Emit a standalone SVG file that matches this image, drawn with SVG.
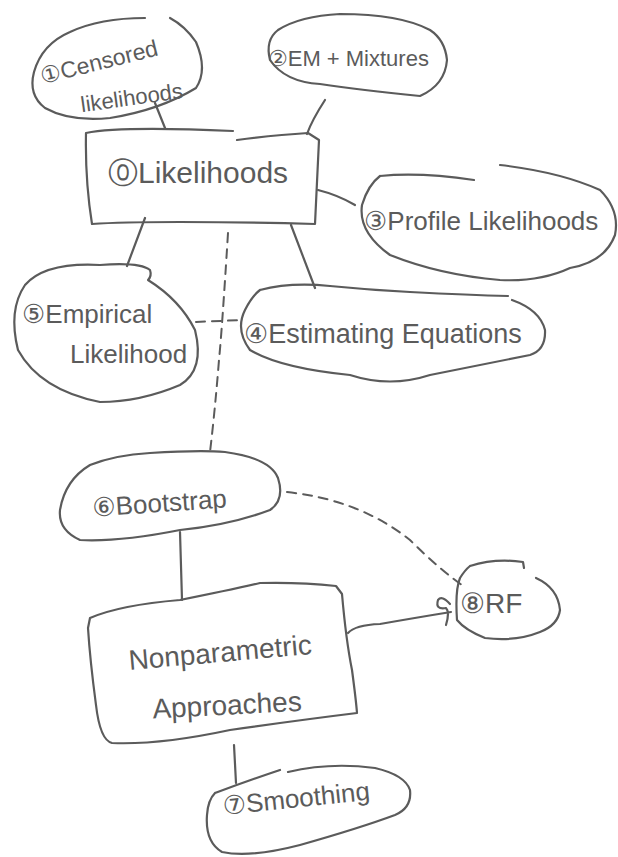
<svg xmlns="http://www.w3.org/2000/svg" width="618" height="857" viewBox="0 0 618 857">
<style>
.s{fill:none;stroke:#5b5b5b;stroke-width:2.2;stroke-linecap:round;stroke-linejoin:round}
.d{fill:none;stroke:#5b5b5b;stroke-width:2;stroke-dasharray:9 7;stroke-linecap:round}
.t{font-family:"Liberation Sans","DejaVu Sans",sans-serif;fill:#5b5b5b}
</style>
<rect width="618" height="857" fill="#fff"/>
<g id="connectors">
<path class="s" d="M155,103 L165,128"/>
<path class="s" d="M325,100 Q312,120 307,134"/>
<path class="s" d="M318,190 Q338,195 355,205"/>
<path class="s" d="M145,218 L127,266"/>
<path class="s" d="M291,225 L315,288"/>
<path class="d" d="M228,233 Q222,330 219,360 Q215,410 210,452"/>
<path class="d" d="M196,322 L242,320"/>
<path class="s" d="M180,532 L182,600"/>
<path class="d" d="M287,492 Q360,500 410,540 Q440,570 466,588"/>
<path class="s" d="M348,633 Q355,625 380,624 Q420,617 451,612 M450,604 Q442,595 438,600 Q435,610 446,608 Q450,612 446,625"/>
<path class="s" d="M234,745 L236,783"/>
</g>
<g id="censored">
<path class="s" d="M145,18 Q100,18 70,32 Q42,44 34,72 Q28,95 45,108 Q70,122 110,118 Q160,110 196,88 Q208,70 196,42 Q185,26 170,18"/>
<text class="t" x="38" y="72" font-size="23" transform="rotate(-14 90 60)">①Censored</text>
<text class="t" x="80" y="104" font-size="22" transform="rotate(-8 140 95)">likelihoods</text>
</g>
<g id="em">
<path class="s" d="M278,30 Q265,40 270,60 Q285,82 320,84 Q360,90 420,96 Q445,85 447,60 Q445,40 430,30 Q400,14 340,14 Q300,16 278,30"/>
<text class="t" x="268" y="66" font-size="22">②EM + Mixtures</text>
</g>
<g id="likelihoods">
<path class="s" d="M86,133 Q120,126 233,131 M237,140 Q275,135 308,133 L319,140 Q317,180 315,224 Q250,222 180,222 Q120,222 92,224 Q85,180 86,133"/>
<text class="t" x="108" y="183" font-size="30">⓪Likelihoods</text>
</g>
<g id="profile">
<path class="s" d="M380,176 Q420,172 474,180 M500,165 Q560,172 600,190 Q620,210 615,235 Q605,262 570,268 Q540,282 500,280 Q440,275 390,255 Q358,232 362,205 Q368,185 380,176"/>
<text class="t" x="364" y="230" font-size="26">③Profile Likelihoods</text>
</g>
<g id="empirical">
<path class="s" d="M25,285 Q45,262 100,265 Q140,262 150,270 Q152,276 148,280 Q180,300 195,330 Q205,370 180,385 Q140,402 100,402 Q40,390 18,350 Q8,310 25,285"/>
<text class="t" x="22" y="323" font-size="26">⑤Empirical</text>
<text class="t" x="70" y="363" font-size="26">Likelihood</text>
</g>
<g id="estimating">
<path class="s" d="M260,290 Q290,282 330,286 Q370,290 410,292 Q470,295 508,296 M512,300 Q540,310 545,330 Q546,350 530,355 Q480,365 430,375 Q390,388 350,375 Q280,368 250,350 Q235,330 245,310 Q252,296 260,290"/>
<text class="t" x="244" y="343" font-size="27">④Estimating Equations</text>
</g>
<g id="bootstrap">
<path class="s" d="M150,453 Q200,450 225,452 Q270,458 278,478 Q285,500 270,510 Q230,525 180,530 Q120,542 80,540 Q58,530 60,510 Q65,480 90,465 Q115,455 150,453"/>
<text class="t" x="92" y="512" font-size="26" transform="rotate(-4 160 500)">⑥Bootstrap</text>
</g>
<g id="rf">
<path class="s" d="M470,566 Q495,558 523,562 L524,568 M536,578 Q558,588 560,610 Q558,625 540,632 Q515,642 485,638 Q465,630 457,620 Q455,590 460,578 Q465,570 470,566"/>
<text class="t" x="460" y="613" font-size="28">⑧RF</text>
</g>
<g id="nonparametric">
<path class="s" d="M90,618 Q120,605 180,600 Q230,590 260,583 Q300,582 336,586 L342,594 Q346,640 352,670 Q356,700 357,713 Q300,720 230,730 Q160,745 112,743 Q100,740 96,705 Q90,660 88,628 Z"/>
<text class="t" x="128" y="662" font-size="28" transform="rotate(-5 220 650)">Nonparametric</text>
<text class="t" x="152" y="715" font-size="28" transform="rotate(-3 220 700)">Approaches</text>
</g>
<g id="smoothing">
<path class="s" d="M215,793 Q250,780 280,770 M288,772 Q330,762 375,768 Q405,775 410,790 Q412,808 395,815 Q360,828 300,845 Q250,858 222,852 Q205,842 207,815 Q208,800 215,793"/>
<text class="t" x="222" y="808" font-size="26" transform="rotate(-6 290 795)">⑦Smoothing</text>
</g>
</svg>
